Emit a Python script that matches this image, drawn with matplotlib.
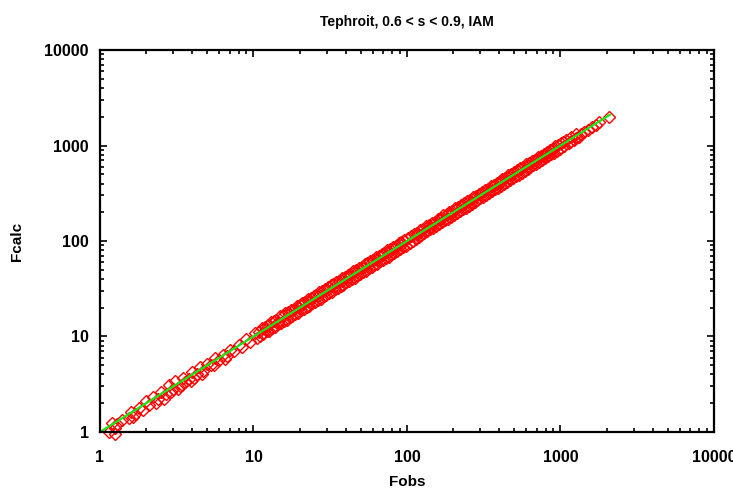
import matplotlib.pyplot as plt
from matplotlib.ticker import LogLocator, NullFormatter

plt.rcParams['font.family'] = ['Liberation Sans', 'DejaVu Sans']
plt.rcParams['font.weight'] = 'bold'

fobs_low = [1.15, 1.2, 1.25, 1.3, 1.4, 1.55, 1.6, 1.7, 1.8, 1.9, 2.0, 2.1, 2.2, 2.4, 2.5,
            2.7, 2.8, 3.0, 3.1, 3.3, 3.5, 3.6, 3.8, 4.0, 4.3, 4.5, 4.7, 5.0, 5.3, 5.6,
            6.0, 6.3, 6.7, 7.0, 7.5, 8.0, 8.4, 9.0, 9.5, 1.25, 1.65, 2.3, 2.9, 3.4, 4.1,
            2.6, 3.2, 3.9, 4.6, 5.5, 6.5]
fcalc_low = [1.0, 1.25, 1.1, 1.2, 1.35, 1.4, 1.6, 1.55, 1.8, 1.7, 2.1, 1.9, 2.3, 2.2, 2.6,
             2.5, 3.1, 2.8, 3.4, 3.0, 3.7, 3.3, 3.6, 4.2, 4.0, 4.8, 4.3, 5.1, 5.0, 5.9,
             5.7, 6.4, 6.3, 7.2, 7.0, 8.1, 7.8, 9.3, 8.8, 0.95, 1.45, 2.0, 2.6, 3.1, 3.7,
             2.2, 2.8, 3.4, 4.0, 5.0, 5.8]

fobs_mid = [10.2, 10.8, 11.3, 11.9, 12.4, 13.0, 13.6, 14.1, 14.8, 15.5, 16.1, 16.9, 17.6,
            18.3, 19.1, 20.0, 20.8, 21.7, 22.6, 23.6, 24.7, 25.7, 26.8, 28.0, 29.2, 30.5,
            31.8, 33.2, 34.6, 36.1, 37.7, 39.3, 41.0, 42.8, 44.7, 46.6, 48.6, 50.7, 52.9,
            55.2, 57.6, 60.1, 62.7, 65.4, 68.3, 71.2, 74.3, 77.6, 80.9, 84.4, 88.1, 91.9, 95.9,
            10.5, 11.0, 11.6, 12.2, 12.7, 13.3, 13.9, 14.5, 15.1, 15.8, 16.5, 17.2, 17.9,
            18.7, 19.5, 20.4, 21.3, 22.2, 23.1, 24.1, 25.2, 26.2, 27.4, 28.6, 29.8, 31.1,
            32.5, 33.9, 35.3, 36.9, 38.5, 40.1, 41.9, 43.7, 45.6, 47.6, 49.6, 51.8, 54.0,
            56.4, 58.8, 61.4, 64.0, 66.8, 69.7, 72.7, 75.9, 79.2, 82.6, 86.2, 90.0, 93.9, 98.0,
            12.0, 14.4, 17.0, 19.8, 22.9, 26.5, 30.2, 34.0, 38.0, 42.2, 47.0, 52.0, 57.9,
            63.8, 70.0, 76.7, 83.5, 91.0]
fcalc_mid = [10.9, 11.2, 12.3, 12.6, 13.1, 14.2, 14.5, 15.0, 16.3, 16.2, 17.5, 18.0, 18.9,
             19.5, 20.8, 21.4, 22.6, 23.0, 24.5, 25.1, 26.7, 27.2, 29.0, 29.8, 31.4, 32.6,
             34.5, 35.1, 37.4, 38.3, 40.8, 41.7, 44.2, 45.5, 48.1, 49.5, 52.6, 53.6, 57.0,
             58.4, 62.1, 63.5, 67.9, 69.1, 73.6, 75.5, 80.3, 82.0, 87.2, 89.5, 95.1, 97.3, 103.4,
             9.6, 10.1, 10.5, 11.3, 11.5, 12.3, 12.6, 13.4, 13.7, 14.6, 14.9, 15.9, 16.2,
             17.3, 17.7, 18.9, 19.3, 20.5, 21.0, 22.3, 22.8, 24.2, 24.8, 26.4, 27.0, 28.7,
             29.4, 31.3, 32.0, 34.1, 34.9, 37.0, 37.9, 40.3, 41.3, 43.9, 44.9, 47.8, 48.9,
             52.0, 53.3, 56.6, 58.0, 61.6, 63.1, 67.1, 68.7, 73.1, 74.8, 79.5, 81.5, 86.6, 88.7,
             12.1, 14.3, 17.2, 19.7, 23.1, 26.3, 30.5, 33.8, 38.4, 41.9, 47.4, 51.7, 58.3,
             63.4, 70.6, 76.1, 84.2, 90.4]

fobs_high = [101, 106, 111, 116, 121, 127, 133, 139, 145, 152, 159, 166, 173, 181, 189,
             198, 207, 216, 226, 236, 247, 258, 270, 282, 295, 308, 322, 336, 351, 367,
             384, 401, 419, 438, 458, 478, 500, 523, 546, 571, 597, 624, 652, 681, 712,
             744, 778, 813, 850, 888, 928, 970,
             104, 109, 114, 119, 124, 130, 136, 142, 148, 155, 162, 169, 177, 185, 193,
             202, 211, 221, 231, 241, 252, 264, 276, 288, 301, 315, 329, 344, 359, 375,
             392, 410, 428, 448, 468, 489, 511, 534, 558, 584, 610, 638, 667, 697, 728,
             761, 795, 831, 869, 908, 949, 992,
             118, 141, 165, 195, 228, 262, 305, 350, 405, 462, 530, 610, 690, 780, 880]
fcalc_high = [108, 112, 119, 122, 130, 134, 142, 146, 155, 160, 170, 175, 185, 190, 202,
              208, 221, 227, 241, 248, 263, 272, 288, 296, 314, 324, 343, 354, 374, 386,
              409, 421, 446, 460, 487, 502, 531, 548, 580, 598, 634, 653, 692, 713, 755,
              778, 824, 849, 901, 925, 982, 1010,
              96, 101, 106, 111, 115, 121, 126, 132, 137, 144, 150, 157, 164, 172, 179,
              187, 196, 205, 214, 223, 234, 244, 256, 267, 279, 292, 305, 319, 333, 348,
              363, 380, 397, 415, 434, 453, 474, 495, 517, 541, 566, 591, 618, 646, 675,
              706, 737, 770, 806, 842, 880, 920,
              119, 140, 167, 193, 230, 259, 308, 346, 409, 456, 536, 603, 698, 772, 889]

fobs_top = [1010, 1050, 1090, 1130, 1180, 1220, 1270, 1320, 1040, 1150, 1260,
            1370, 1430, 1520, 1600, 1700, 1780, 2070]
fcalc_top = [1070, 980, 1140, 1060, 1230, 1150, 1310, 1240, 1090, 1100, 1200,
             1330, 1390, 1470, 1560, 1650, 1760, 2000]

fobs_all = fobs_low + fobs_mid + fobs_high + fobs_top
fcalc_all = fcalc_low + fcalc_mid + fcalc_high + fcalc_top

line_x = [1, 2100]
line_y = [1, 2100]

fig = plt.figure(figsize=(7.33, 4.88), dpi=100)
ax = fig.add_axes([0.1364, 0.1148, 0.8376, 0.7827])

ax.plot(fobs_all, fcalc_all, linestyle='none', marker='D', ms=6.3, mfc='none',
        mec='#ff0000', mew=1.0, clip_on=False)
ax.plot(line_x, line_y, color='#19e619', lw=1.6)

ax.set_xscale('log')
ax.set_yscale('log')
ax.set_xlim(1, 10000)
ax.set_ylim(1, 10000)

for a in (ax.xaxis, ax.yaxis):
    a.set_major_locator(LogLocator(base=10, numticks=10))
    a.set_minor_locator(LogLocator(base=10, subs=range(2, 10), numticks=10))
    a.set_minor_formatter(NullFormatter())
ax.set_xticks([1, 10, 100, 1000, 10000], ['1', '10', '100', '1000', '10000'])
ax.set_yticks([1, 10, 100, 1000, 10000], ['1', '10', '100', '1000', '10000'])

ax.tick_params(which='both', direction='in', top=True, right=True, width=1.2,
               labelsize=11.5)
ax.tick_params(axis='x', which='major', length=5, pad=13)
ax.tick_params(axis='y', which='major', length=5, pad=8)
ax.tick_params(which='minor', length=3)
for s in ax.spines.values():
    s.set_linewidth(1.6)

ax.set_title('Tephroit, 0.6 < s < 0.9, IAM', fontsize=10, fontweight='bold', pad=17)
ax.set_xlabel('Fobs', fontsize=11, fontweight='bold', labelpad=7)
ax.set_ylabel('Fcalc', fontsize=11, fontweight='bold', labelpad=15)

fig.savefig('out.png', dpi=100)
